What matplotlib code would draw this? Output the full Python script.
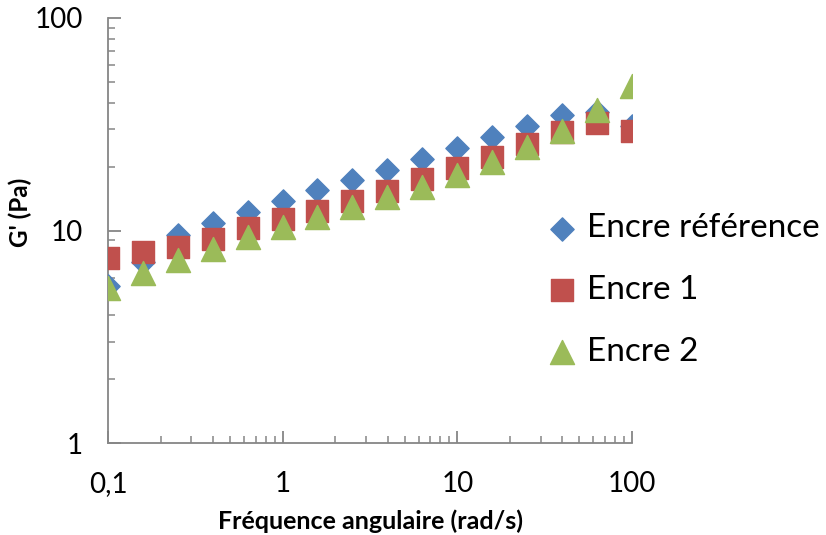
import matplotlib.pyplot as plt
import numpy as np
from matplotlib.ticker import FixedLocator, FixedFormatter, LogLocator, NullFormatter

# Fréquence angulaire (rad/s)
freq = [0.1, 0.158, 0.251, 0.398, 0.631, 1, 1.58, 2.51, 3.98, 6.31, 10, 15.8, 25.1, 39.8, 63.1, 100]

# G' (Pa)
encre_ref = [5.5, 7.1, 9.5, 10.8, 12.2, 13.8, 15.5, 17.3, 19.3, 21.7, 24.4, 27.6, 31.0, 35.0, 36.0, 31.0]
encre_1 = [7.4, 7.9, 8.4, 9.1, 10.3, 11.3, 12.3, 13.8, 15.3, 17.5, 19.7, 22.2, 25.5, 29.1, 32.0, 29.4]
encre_2 = [5.35, 6.3, 7.3, 8.2, 9.3, 10.4, 11.6, 12.9, 14.4, 16.0, 18.2, 21.0, 24.7, 29.4, 36.9, 47.9]

plt.rcParams['font.family'] = ['Lato', 'DejaVu Sans']

fig = plt.figure(figsize=(8.26, 5.35), dpi=100)
ax = fig.add_axes([108 / 826, 1 - 443 / 535, (632 - 108) / 826, (443 - 18) / 535])

ax.scatter(freq, encre_ref, marker='D', s=140, color='#4F81BD', label='Encre référence', zorder=3)
ax.scatter(freq, encre_1, marker='s', s=260, color='#C0504D', label='Encre 1', zorder=3)
ax.scatter(freq, encre_2, marker='^', s=300, color='#9BBB59', label='Encre 2', zorder=3)

ax.set_xscale('log')
ax.set_yscale('log')
ax.set_xlim(0.1, 100)
ax.set_ylim(1, 100)

ax.xaxis.set_major_locator(FixedLocator([0.1, 1, 10, 100]))
ax.xaxis.set_major_formatter(FixedFormatter(['0,1', '1', '10', '100']))
ax.yaxis.set_major_locator(FixedLocator([1, 10, 100]))
ax.yaxis.set_major_formatter(FixedFormatter(['1', '10', '100']))
ax.xaxis.set_minor_locator(LogLocator(base=10, subs=np.arange(2, 10)))
ax.yaxis.set_minor_locator(LogLocator(base=10, subs=np.arange(2, 10)))
ax.xaxis.set_minor_formatter(NullFormatter())
ax.yaxis.set_minor_formatter(NullFormatter())

for s in ['top', 'right']:
    ax.spines[s].set_visible(False)
for s in ['left', 'bottom']:
    ax.spines[s].set_color('#868686')
    ax.spines[s].set_linewidth(1.3)

ax.tick_params(which='major', direction='in', length=9, width=1.3, color='#868686', labelsize=20)
ax.tick_params(axis='x', which='major', pad=20)
ax.tick_params(axis='y', which='major', pad=18)
ax.tick_params(which='minor', direction='in', length=5, width=1.1, color='#868686')
ax.set_facecolor('none')

ax.set_xlabel('Fréquence angulaire (rad/s)', fontsize=18, fontweight='bold', va='center', ha='center')
ax.set_ylabel("G' (Pa)", fontsize=17.5, fontweight='bold', va='center', ha='center')
ax.xaxis.set_label_coords((370 - 108) / 524, -(521 - 443) / 425)
ax.yaxis.set_label_coords(-(108 - 20) / 524, (443 - 212) / 425)

fig.legend(loc='upper left', bbox_to_anchor=(532 / 826, 1 - 200 / 535), frameon=False, fontsize=24,
           handlelength=1.0, handletextpad=0.25, labelspacing=0.95, markerscale=1.0, borderaxespad=0)

plt.savefig('out.png', dpi=100)
